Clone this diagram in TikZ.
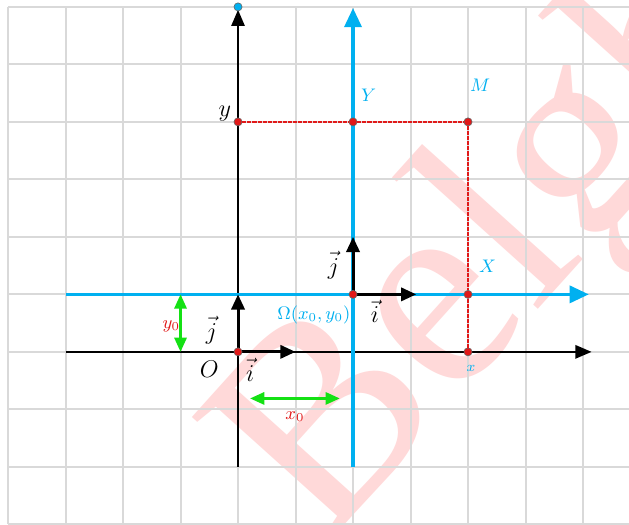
\documentclass[tikz,border=0pt]{standalone}
\usepackage{amsmath,amssymb}
\usepackage{fontspec}
\usetikzlibrary{arrows.meta}
\newfontfamily\filig{Liberation Serif}
\definecolor{bleu}{RGB}{0,176,240}
\definecolor{vert}{RGB}{20,225,20}
\definecolor{rouge}{RGB}{225,25,25}
\tikzset{>={Triangle[length=7.5pt,width=6.5pt]},every node/.style={font=\large},
 grille/.style={gray!30,line width=1pt},
 axe/.style={line width=1.15pt,-{Triangle[length=8pt,width=6.5pt]}},
 axeb/.style={bleu,line width=1.6pt,-{Triangle[length=9.5pt,width=8.5pt]}},
 vect/.style={line width=1.5pt,->},
 proj/.style={rouge,line width=0.9pt,dash pattern=on 2pt off 0.5pt},
 cote/.style={vert,line width=1.2pt,{Triangle[length=7pt,width=6pt]}-{Triangle[length=7pt,width=6pt]}},
 dot/.style={circle,fill=rouge,draw=black!60,line width=0.3pt,inner sep=0pt,minimum size=4pt},
 lb/.style={bleu,font=\small}, lr/.style={rouge,font=\small}}

\begin{document}
\begin{tikzpicture}
\useasboundingbox (-4.14,-3.01) rectangle (6.8,6.12);
\clip (-4.14,-3.01) rectangle (6.8,6.12);
\fill[white] (-4.14,-3.01) rectangle (6.8,6.12);
\node[red!15,font=\filig\fontsize{140}{140}\selectfont,rotate=48,anchor=base west,inner sep=0pt] (wm) at (1.5,-3.4) {Belgh};
\foreach \y in {-3,...,6} \draw[grille] (-4,\y)--(6.9,\y);
\foreach \x in {-4,...,6} \draw[grille] (\x,-3)--(\x,6);
% axes
\coordinate (xg) at (-3,0);\coordinate (xd) at (6.15,0);\coordinate (yb) at (0,-2);\coordinate (yh) at (0,5.95);
\coordinate (Xg) at (-3,1);\coordinate (Xd) at (6.1,1);\coordinate (Yb) at (2,-2);\coordinate (Yh) at (2,5.98);
\draw[axe] (xg)--(xd);\draw[axe] (yb)--(yh);
\draw[axeb] (Xg)--(Xd);\draw[axeb] (Yb)--(Yh);
\node[dot,fill=bleu] (top) at (0,6) {};
% projections
\node[dot] (Ay) at (0,4) {};\node[dot] (AY) at (2,4) {};\node[dot] (M) at (4,4) {};
\node[dot] (AX) at (4,1) {};\node[dot] (Ax) at (4,0) {};
\draw[proj] (Ay)--(AY)--(M)--(AX)--(Ax);
% vecteurs
\coordinate (i1) at (1,0);\coordinate (j1) at (0,1);\coordinate (i2) at (3.1,1);\coordinate (j2) at (2,2);
\draw[vect] (0,0) coordinate (o)--(i1);\draw[vect] (o)--(j1);
\draw[vect] (2,1) coordinate (w)--(i2);\draw[vect] (w)--(j2);
\node[dot] (O) at (o) {};\node[dot] (W) at (w) {};
% cotes
\coordinate (c1) at (0.21,-0.81);\coordinate (c2) at (1.77,-0.81);\coordinate (c3) at (-1,1);\coordinate (c4) at (-1,0);
\draw[cote] (c1)--(c2);\draw[cote] (c3)--(c4);
\node[lr] (lx0) at (0.99,-1.12) {$x_0$};\node[lr] (ly0) at (-1.16,0.45) {$y_0$};
% textes
\node (ly) at (-0.23,4.14) {$y$};\node (lO) at (-0.5,-0.31) {$O$};
\node (li1) at (0.21,-0.31) {$\vec{i}$};\node (lj1) at (-0.46,0.38) {$\vec{j}$};
\node (li2) at (2.38,0.7) {$\vec{i}$};\node (lj2) at (1.66,1.51) {$\vec{j}$};
\node[lb,anchor=east,inner sep=0pt] (lW) at (1.96,0.64) {$\Omega(x_0,y_0)$};
\node[lb] (lY) at (2.27,4.46) {$Y$};\node[lb] (lM) at (4.21,4.64) {$M$};
\node[lb] (lX) at (4.34,1.48) {$X$};\node[lb,font=\scriptsize] (lx) at (4.05,-0.29) {$x$};
\end{tikzpicture}
\end{document}
